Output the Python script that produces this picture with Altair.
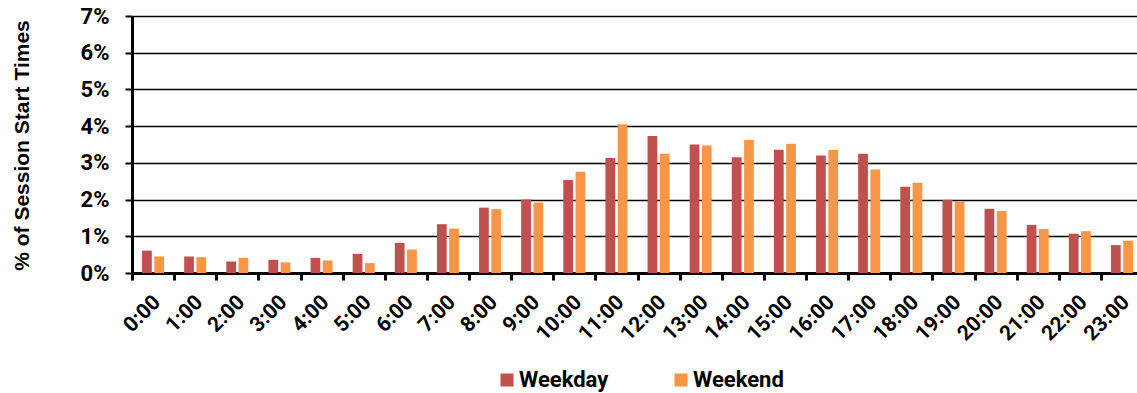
import altair as alt
import pandas as pd

hours = ["0:00", "1:00", "2:00", "3:00", "4:00", "5:00", "6:00", "7:00", "8:00", "9:00",
         "10:00", "11:00", "12:00", "13:00", "14:00", "15:00", "16:00", "17:00", "18:00",
         "19:00", "20:00", "21:00", "22:00", "23:00"]
weekday = [0.61, 0.45, 0.31, 0.36, 0.41, 0.52, 0.82, 1.33, 1.78, 2.00, 2.53, 3.13,
           3.73, 3.50, 3.15, 3.36, 3.20, 3.25, 2.35, 1.99, 1.75, 1.31, 1.07, 0.76]
weekend = [0.45, 0.43, 0.41, 0.29, 0.34, 0.27, 0.64, 1.21, 1.74, 1.92, 2.76, 4.05,
           3.25, 3.47, 3.62, 3.52, 3.35, 2.82, 2.46, 1.95, 1.69, 1.20, 1.14, 0.88]
series = ["Weekday", "Weekend"]
colors = ["#C0504D", "#F79646"]
y_ticks = [0, 1, 2, 3, 4, 5, 6, 7]

rows = []
for i, h in enumerate(hours):
    rows.append({"hour": h, "series": "Weekday", "value": weekday[i]})
    rows.append({"hour": h, "series": "Weekend", "value": weekend[i]})
df = pd.DataFrame(rows)

chart = alt.Chart(df).mark_bar().encode(
    x=alt.X("hour:N", sort=hours, title=None,
            scale=alt.Scale(range=[0, 1011], paddingInner=0, paddingOuter=0),
            axis=alt.Axis(tickBand="extent", labelAngle=-45, labelFont="Roboto",
                          labelFontSize=21, labelFontWeight="bold", labelColor="black",
                          labelPadding=11, labelOffset=-4, tickSize=7, tickWidth=3,
                          tickColor="black", domainColor="black", domainWidth=3,
                          grid=False)),
    xOffset=alt.XOffset("series:N", sort=series,
                        scale=alt.Scale(paddingInner=0.205, paddingOuter=0.82)),
    y=alt.Y("value:Q", title="% of Session Start Times",
            scale=alt.Scale(domain=[0, 7], nice=False, zero=True),
            axis=alt.Axis(values=y_ticks, labelExpr="datum.value + '%'",
                          labelFont="Roboto", labelFontSize=22, labelFontWeight="bold",
                          labelColor="black", labelPadding=16, tickSize=7, tickWidth=2,
                          tickColor="black", domainColor="black", domainWidth=3,
                          grid=True, gridColor="black", gridWidth=1.5,
                          titleFont="Liberation Sans", titleFontSize=21,
                          titleFontWeight="bold", titleColor="black",
                          titleAngle=-90, titleX=-110, titleY=129,
                          titleAlign="center", titleBaseline="middle")),
    color=alt.Color("series:N", sort=series,
                    scale=alt.Scale(domain=series, range=colors),
                    legend=alt.Legend(orient="none", legendX=364, legendY=353,
                                      direction="horizontal", title=None,
                                      symbolType="square", symbolSize=170,
                                      symbolStrokeWidth=0, labelFont="Roboto",
                                      labelFontSize=22, labelFontWeight="bold",
                                      labelColor="black", labelOffset=1,
                                      columnPadding=61)),
).properties(
    width=1005, height=257,
    autosize=alt.AutoSizeParams(type="none"),
    padding={"left": 132, "top": 16, "right": 0, "bottom": 120},
).configure_view(stroke=None)

chart.save("out.html", embed_options={"renderer": "svg", "actions": False})
